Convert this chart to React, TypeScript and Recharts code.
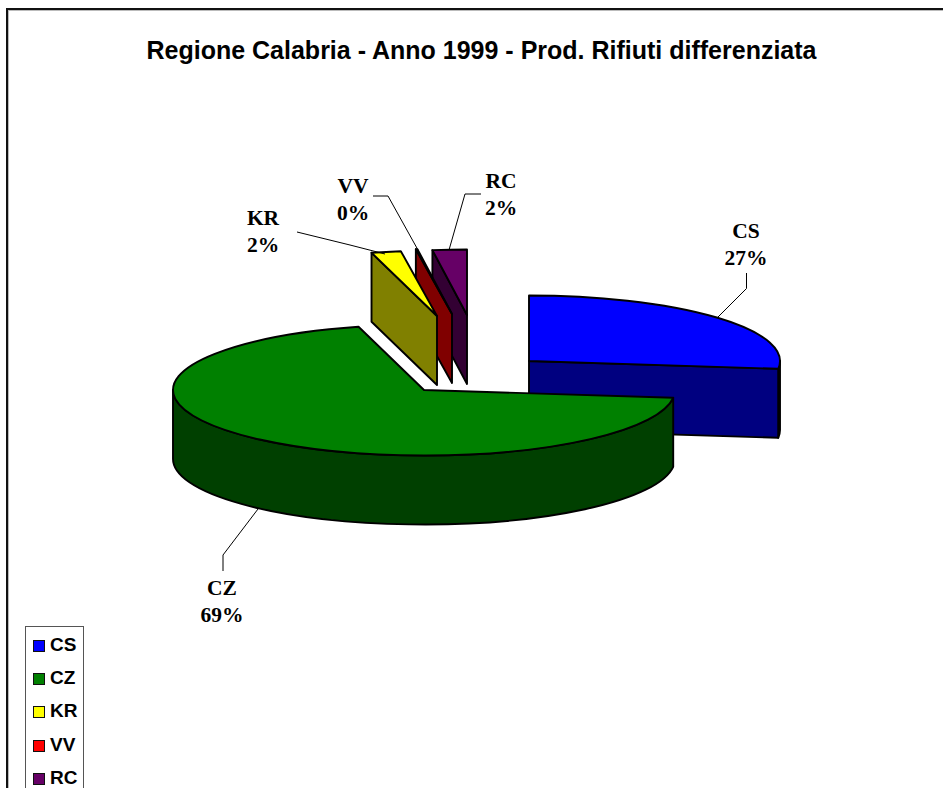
import React from 'react';
import { PieChart, Pie, Legend } from 'recharts';

// Reading order of the legend
const categories = ['CS', 'CZ', 'KR', 'VV', 'RC'];
const shares = [26.9, 68.9, 1.9, 0.1, 2.2];
const percentLabels = ['27%', '69%', '2%', '0%', '2%'];
// Paint order, back to front: the slices go counter-clockwise from the end of CS
const paintOrder = ['CS', 'RC', 'VV', 'KR', 'CZ'];

const topColors: Record<string, string> = { CS: '#0000FF', CZ: '#008000', KR: '#FFFF00', VV: '#FF0000', RC: '#660066' };
const sliceLook: Record<string, any> = {
  CS: { face: '#000080', rim: '#000000', dx: 105, dy: -29, edge: 'start' },
  CZ: { face: null, rim: '#004000', dx: 0, dy: 0, edge: null },
  KR: { face: '#808000', rim: '#808000', dx: 13, dy: -74, edge: 'end' },
  VV: { face: '#800000', rim: '#800000', dx: 28, dy: -76, edge: 'end' },
  RC: { face: '#330033', rim: '#330033', dx: 43, dy: -75, edge: 'end' },
};
const labelLook: Record<string, any> = {
  CS: { x: 746, y: 238, line: [[746.5, 273], [746.5, 288.5], [718, 317]] },
  CZ: { x: 222, y: 595, line: [[223, 571], [223, 555], [258, 509]] },
  KR: { x: 263, y: 225, line: [[297, 232], [350, 245], [385, 254]] },
  VV: { x: 353, y: 193, line: [[373, 196], [388, 196], [418, 250]] },
  RC: { x: 501, y: 188, line: [[481, 194], [465, 194], [449, 250]] },
};

const rows = paintOrder.map((name) => ({
  name,
  value: shares[categories.indexOf(name)],
  fill: topColors[name],
}));

const WIDTH = 943;
const HEIGHT = 788;
const PIE_CX = 424;
const PIE_CY = 390;
const RX = 251;
const RY = 65.5;
const DEPTH = 69;
const CS_SWEEP = (shares[0] / 100) * 360;
const EDGE = 1.9;

const rad = (deg: number) => (deg * Math.PI) / 180;

function SliceShape(props: any) {
  const { cx, cy, startAngle, endAngle, payload, name } = props;
  const key = name ?? payload?.name;
  const look = sliceLook[key];
  const ox = cx + look.dx;
  const oy = cy + look.dy;
  const at = (a: number) => [ox + RX * Math.cos(rad(a)), oy - RY * Math.sin(rad(a))];
  const lo = Math.min(startAngle, endAngle);
  const hi = Math.max(startAngle, endAngle);
  const [sx, sy] = at(lo);
  const [ex, ey] = at(hi);
  const large = hi - lo > 180 ? 1 : 0;
  const top = `M${ox},${oy} L${sx},${sy} A${RX},${RY} 0 ${large} 0 ${ex},${ey} Z`;

  // the part of the outer edge that faces the viewer lies in the lower half
  const ranges: [number, number][] = [];
  [[-180, 0], [180, 360]].forEach(([a, b]) => {
    const l = Math.max(lo, a);
    const h = Math.min(hi, b);
    if (h > l) ranges.push([l, h]);
  });
  const walls = ranges.map(([l, h], i) => {
    const [ax, ay] = at(l);
    const [bx, by] = at(h);
    const big = h - l > 180 ? 1 : 0;
    const d = `M${ax},${ay} A${RX},${RY} 0 ${big} 0 ${bx},${by} L${bx},${by + DEPTH} A${RX},${RY} 0 ${big} 1 ${ax},${ay + DEPTH} Z`;
    return <path key={i} d={d} fill={look.rim} stroke="#000" strokeWidth={EDGE} strokeLinejoin="round" />;
  });

  let face = null;
  if (look.edge) {
    const [px, py] = look.edge === 'start' ? [sx, sy] : [ex, ey];
    const d = `M${ox},${oy} L${px},${py} L${px},${py + DEPTH} L${ox},${oy + DEPTH} Z`;
    face = <path d={d} fill={look.face} stroke="#000" strokeWidth={EDGE} strokeLinejoin="round" />;
  }

  return (
    <g>
      {walls}
      {face}
      <path d={top} fill={topColors[key]} stroke="#000" strokeWidth={EDGE} strokeLinejoin="round" />
    </g>
  );
}

function LegendBox() {
  return (
    <div style={{ paddingTop: 1 }}>
      {categories.map((name) => (
        <div
          key={name}
          style={{
            height: 33.4,
            display: 'flex',
            alignItems: 'center',
            fontFamily: '"Liberation Sans", Arial, sans-serif',
            fontWeight: 700,
            fontSize: 19,
            color: '#000',
          }}
        >
          <span
            style={{
              display: 'inline-block',
              width: 10,
              height: 10,
              marginLeft: 7,
              marginRight: 5,
              marginTop: 2,
              background: topColors[name],
              border: '1.5px solid #111',
            }}
          />
          {name}
        </div>
      ))}
    </div>
  );
}

export default function App() {
  return (
    <div style={{ position: 'absolute', left: 0, top: 0, width: WIDTH, height: HEIGHT, overflow: 'hidden', background: '#fff' }}>
      <div
        style={{
          position: 'absolute',
          left: 5.5,
          top: 8,
          width: WIDTH,
          height: HEIGHT,
          borderLeft: '2px solid #111',
          borderTop: '2px solid #111',
          boxShadow: 'inset 1px 1px 0 #bbb',
        }}
      />
      <PieChart width={WIDTH} height={HEIGHT} margin={{ top: 0, right: 0, bottom: 0, left: 0 }} style={{ position: 'absolute', left: 0, top: 0 }}>
        <text
          x={481.5}
          y={59}
          textAnchor="middle"
          fontFamily='"Liberation Sans", Arial, sans-serif'
          fontWeight={700}
          fontSize={25}
          fill="#000"
        >
          Regione Calabria - Anno 1999 - Prod. Rifiuti differenziata
        </text>
        <Pie
          data={rows}
          dataKey="value"
          nameKey="name"
          cx={PIE_CX}
          cy={PIE_CY}
          innerRadius={0}
          outerRadius={RX}
          startAngle={90 - CS_SWEEP}
          endAngle={450 - CS_SWEEP}
          paddingAngle={0}
          stroke="#000"
          shape={SliceShape}
          labelLine={false}
          label={(p: any) => {
            const key = p.name ?? p.payload?.name;
            const l = labelLook[key];
            return (
              <g key={key}>
                <polyline
                  points={l.line.map((q: number[]) => q.join(',')).join(' ')}
                  fill="none"
                  stroke="#000"
                  strokeWidth={1}
                />
                <text
                  x={l.x}
                  y={l.y}
                  textAnchor="middle"
                  fontFamily='"Liberation Serif", "Times New Roman", serif'
                  fontWeight={700}
                  fontSize={21.5}
                  fill="#000"
                >
                  <tspan x={l.x} dy={0}>{key}</tspan>
                  <tspan x={l.x} dy={27}>{percentLabels[categories.indexOf(key)]}</tspan>
                </text>
              </g>
            );
          }}
          isAnimationActive={false}
        />
        <Legend
          layout="vertical"
          content={<LegendBox />}
          wrapperStyle={{
            position: 'absolute',
            left: 25,
            top: 626,
            width: 59,
            height: 175,
            bottom: 'auto',
            background: '#fff',
            border: '1.5px solid #555',
            boxSizing: 'border-box',
          }}
        />
      </PieChart>
    </div>
  );
}
